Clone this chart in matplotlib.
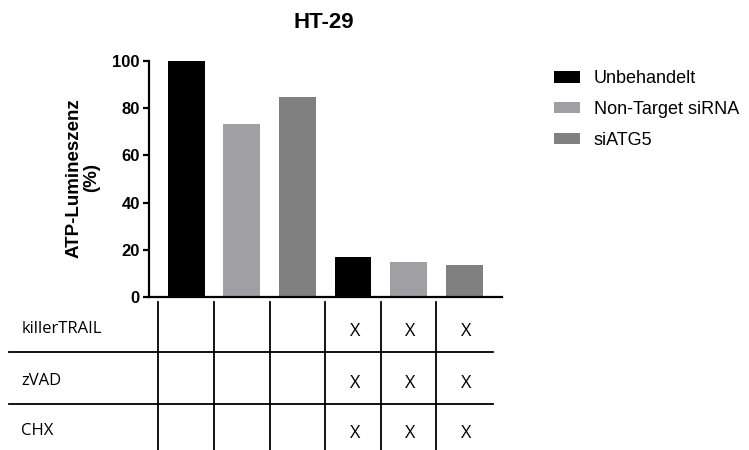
import matplotlib.pyplot as plt
import numpy as np
from matplotlib.patches import Patch

# --- data ---
groups = ["Unbehandelt", "Non-Target siRNA", "siATG5",
          "Unbehandelt", "Non-Target siRNA", "siATG5"]
values = [100, 73.3, 84.7, 17.0, 14.8, 13.4]
legend_labels = ["Unbehandelt", "Non-Target siRNA", "siATG5"]
group_colors = {"Unbehandelt": "#000000",
                "Non-Target siRNA": "#A0A0A4",
                "siATG5": "#808080"}
yticks = [0, 20, 40, 60, 80, 100]

treatments = ["killerTRAIL", "zVAD", "CHX"]
killer_trail = [False, False, False, True, True, True]
zvad = [False, False, False, True, True, True]
chx = [False, False, False, True, True, True]

W, H = 749, 450
bold_font = "Liberation Sans"
table_font = "Open Sans"

fig = plt.figure(figsize=(W / 100, H / 100), dpi=100)

# main bar axes (pixel box: x 149..502, y 61..297)
ax = fig.add_axes([149 / W, 1 - 297 / H, 353 / W, 236 / H])
x = np.arange(len(values))
ax.bar(x, values, width=0.66, color=[group_colors[g] for g in groups])
ax.set_xlim(-0.67, 5.68)
ax.set_ylim(0, 100)
ax.set_yticks(yticks)
ax.set_xticks([])
for s in ["top", "right"]:
    ax.spines[s].set_visible(False)
for s in ["left", "bottom"]:
    ax.spines[s].set_linewidth(1.6)
ax.tick_params(axis="y", length=4.5, width=1.6, pad=2)
for lbl in ax.get_yticklabels():
    lbl.set_fontfamily(bold_font)
    lbl.set_fontweight("bold")
    lbl.set_fontsize(12)

fig.text(324 / W, 1 - 22 / H, "HT-29", ha="center", va="center",
         fontsize=16, fontweight="bold", family=bold_font)
fig.text(83 / W, 1 - 178 / H, "ATP-Lumineszenz\n(%)", ha="center", va="center",
         rotation=90, multialignment="center", fontsize=13.5,
         fontweight="bold", family=bold_font, linespacing=1.0)

handles = [Patch(facecolor=group_colors[g], edgecolor="none") for g in legend_labels]
fig.legend(handles, legend_labels, loc="upper left",
           bbox_to_anchor=(538 / W, 1 - 54 / H), frameon=False,
           prop={"family": bold_font, "size": 13},
           handlelength=1.45, handleheight=0.6, handletextpad=0.75,
           labelspacing=0.76)

# treatment table below the bars, sharing the bar x positions
tax = fig.add_axes([149 / W, 0, 353 / W, 148 / H])
tax.set_xlim(ax.get_xlim())
tax.set_ylim(450, 302)
tax.axis("off")

for i in range(len(values)):
    tax.plot([i - 0.5, i - 0.5], [302, 450], color="black", lw=1.3, clip_on=False)
for yy in [352, 404]:
    tax.plot([-3.18, 5.52], [yy, yy], color="black", lw=1.3, clip_on=False)

row_y = [329, 381, 431]
for name, flags, yy in zip(treatments, [killer_trail, zvad, chx], row_y):
    tax.text(-2.97, yy, name, ha="left", va="center", fontsize=12,
             family=table_font, clip_on=False)
    for i, f in enumerate(flags):
        if f:
            tax.text(i + 0.03, yy + 2, "X", ha="center", va="center",
                     fontsize=13, family=table_font)

fig.savefig("out.png", dpi=100)
